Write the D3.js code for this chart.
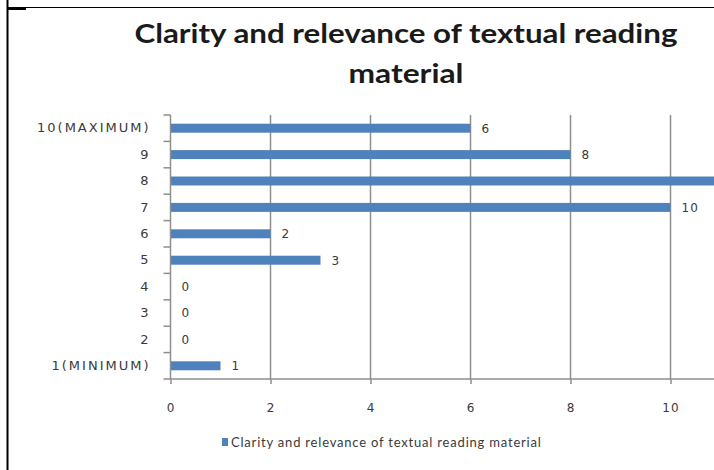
<!DOCTYPE html>
<html>
<head>
<meta charset="utf-8">
<script src="https://cdn.jsdelivr.net/npm/d3@7"></script>
<style>
  body { margin: 0; background: #fff; }
  svg { display: block; }
</style>
</head>
<body>
<div id="chart"></div>
<script>
// Data (bar for "8" runs off the right edge)
const categories = ["10(MAXIMUM)", "9", "8", "7", "6", "5", "4", "3", "2", "1(MINIMUM)"];
const values = [6, 8, 12, 10, 2, 3, 0, 0, 0, 1];
const xTicks = [0, 2, 4, 6, 8, 10];
const title = ["Clarity and relevance of textual reading", "material"];
const seriesName = "Clarity and relevance of textual reading material";

const W = 714, H = 470;
const barColor = "#4f81bd";
const gridColor = "#8e8e8e";
const textColor = "#3a3a3a";

const svg = d3.select("#chart")
    .append("svg")
    .attr("width", W)
    .attr("height", H);

// Page frame (black rules from the source document)
svg.append("line")
    .attr("x1", 7.5).attr("x2", 7.5)
    .attr("y1", 0).attr("y2", H)
    .attr("stroke", "#000").attr("stroke-width", 2);
svg.append("line")
    .attr("x1", 8).attr("x2", W)
    .attr("y1", 7.5).attr("y2", 7.5)
    .attr("stroke", "#000").attr("stroke-width", 1);
svg.append("line")
    .attr("x1", 8).attr("x2", 26)
    .attr("y1", 9).attr("y2", 9)
    .attr("stroke", "#000").attr("stroke-width", 2);

// Scales
const x = d3.scaleLinear()
    .domain([0, 12])
    .range([170.5, 770.5]);

const y = d3.scaleBand()
    .domain(categories)
    .range([115, 379])
    .paddingInner(0.66)
    .paddingOuter(0.33);

// Vertical gridlines
svg.append("g")
    .selectAll("line")
    .data(xTicks.slice(1))
    .join("line")
    .attr("x1", d => x(d)).attr("x2", d => x(d))
    .attr("y1", 115).attr("y2", 379)
    .attr("stroke", gridColor)
    .attr("stroke-width", 1.5);

// Bars
svg.append("g")
    .selectAll("rect")
    .data(values)
    .join("rect")
    .attr("x", x(0))
    .attr("y", (d, i) => y(categories[i]))
    .attr("width", d => x(d) - x(0))
    .attr("height", y.bandwidth())
    .attr("fill", barColor);

// Value labels (the one past the right edge is cut off in the picture)
svg.append("g")
    .selectAll("text")
    .data(values.map((v, i) => ({ v, c: categories[i] })).filter(d => x(d.v) + 25 < W))
    .join("text")
    .attr("x", d => x(d.v) + 11)
    .attr("y", d => y(d.c) + y.bandwidth() / 2)
    .attr("dy", "0.36em")
    .attr("fill", textColor)
    .style("font-family", "DejaVu Sans, sans-serif")
    .style("font-size", "12px")
    .style("letter-spacing", "1px")
    .text(d => d.v);

// X axis
const xAxis = svg.append("g")
    .attr("transform", "translate(0,379)")
    .call(d3.axisBottom(x).tickValues(xTicks).tickSize(5).tickPadding(19).tickFormat(d3.format("d")));
xAxis.select(".domain")
    .attr("stroke", gridColor)
    .attr("stroke-width", 1.5)
    .attr("d", `M${x(0)},0H${W}`);
xAxis.selectAll(".tick line").attr("stroke", gridColor).attr("stroke-width", 1.5);
xAxis.selectAll("text")
    .attr("fill", textColor)
    .style("font-family", "DejaVu Sans, sans-serif")
    .style("font-size", "12px")
    .style("letter-spacing", "1px");

// Y axis
const yAxis = svg.append("g")
    .attr("transform", `translate(${x(0)},0)`)
    .call(d3.axisLeft(y).tickSize(0).tickPadding(20));
yAxis.select(".domain")
    .attr("stroke", gridColor)
    .attr("stroke-width", 1.5)
    .attr("d", "M0,115V379");
yAxis.selectAll("text")
    .attr("fill", textColor)
    .style("font-family", "DejaVu Sans, sans-serif")
    .style("font-size", "13px")
    .style("letter-spacing", "2px");

// tick marks between categories
svg.append("g")
    .selectAll("line")
    .data(d3.range(categories.length + 1))
    .join("line")
    .attr("x1", x(0) - 7).attr("x2", x(0))
    .attr("y1", i => 115 + i * y.step())
    .attr("y2", i => 115 + i * y.step())
    .attr("stroke", gridColor)
    .attr("stroke-width", 1.5);

// Title (source image is slightly stretched sideways)
const titleWidths = [543, 115];
svg.append("g")
    .selectAll("text")
    .data(title)
    .join("text")
    .attr("x", 406)
    .attr("y", (d, i) => 43 + i * 40)
    .attr("text-anchor", "middle")
    .attr("textLength", (d, i) => titleWidths[i])
    .attr("lengthAdjust", "spacingAndGlyphs")
    .attr("fill", "#1a1a1a")
    .style("font-family", "Lato, sans-serif")
    .style("font-weight", "bold")
    .style("font-size", "27px")
    .text(d => d);

// Legend
const legend = svg.append("g")
    .attr("transform", "translate(222,443)");
legend.append("rect")
    .attr("x", 0).attr("y", -5)
    .attr("width", 6).attr("height", 8)
    .attr("fill", barColor);
legend.append("text")
    .attr("x", 9).attr("y", 0)
    .attr("dy", "0.32em")
    .attr("fill", textColor)
    .style("font-family", "Lato, sans-serif")
    .style("font-size", "13px")
    .style("letter-spacing", "0.8px")
    .text(seriesName);
</script>
</body>
</html>
